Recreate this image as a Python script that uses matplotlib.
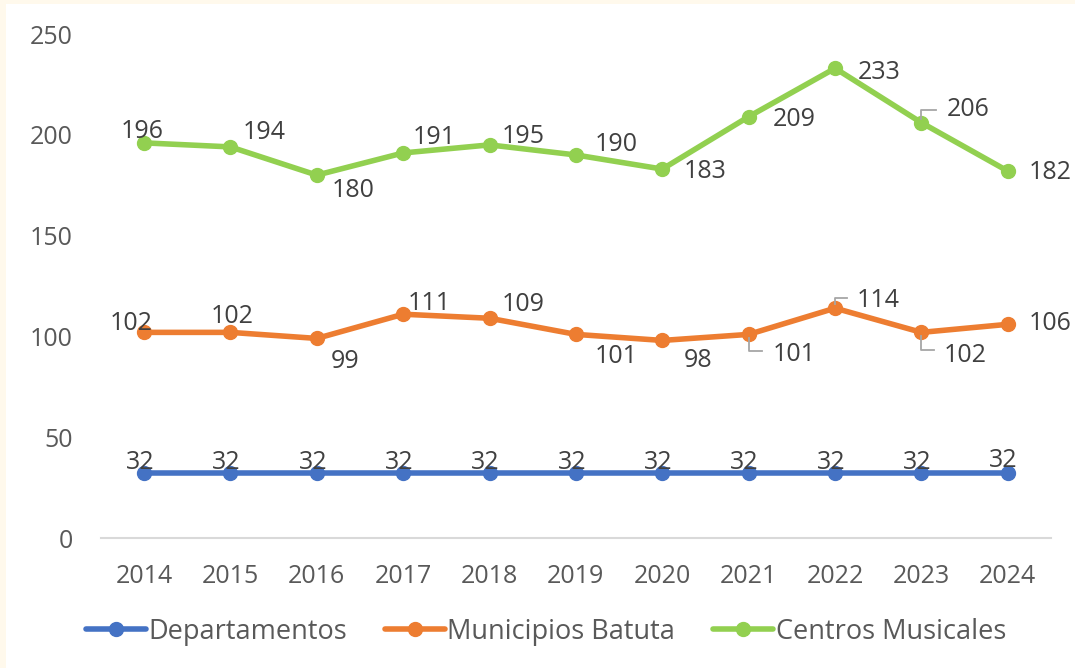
import matplotlib.pyplot as plt
from matplotlib.patches import Rectangle

# datos
anios = ["2014", "2015", "2016", "2017", "2018", "2019", "2020", "2021", "2022", "2023", "2024"]
departamentos = [32, 32, 32, 32, 32, 32, 32, 32, 32, 32, 32]
municipios = [102, 102, 99, 111, 109, 101, 98, 101, 114, 102, 106]
centros = [196, 194, 180, 191, 195, 190, 183, 209, 233, 206, 182]

# desplazamiento de etiquetas (pixeles)
off_dep = [(-4, 11)] * 10 + [(-5, 13)]
off_mun = [(-13, 9), (2, 16), (28, -23), (26, 11), (34, 14), (40, -22),
           (36, -20), (45, -20), (43, 8), (44, -23), (42, 1)]
off_cen = [(-2, 11), (34, 14), (36, -15), (31, 15), (34, 8), (40, 10),
           (43, -2), (46, -3), (44, -4), (47, 13), (42, -1)]
# lineas guia: indice -> (dy vertical, dx horizontal)
guia_mun = {7: (-17, 13), 8: (10, 12), 9: (-18, 13)}
guia_cen = {9: (13, 15)}

azul = "#4472C4"
naranja = "#ED7D31"
verde = "#92D050"

plt.rcParams['font.family'] = ['Open Sans', 'DejaVu Sans']

fig = plt.figure(figsize=(10.75, 6.68), dpi=100)
fig.patch.set_facecolor("#FFF9EC")
fig.patches.append(Rectangle((6 / 1075, 0), 1, 1 - 4 / 668, transform=fig.transFigure,
                             facecolor="white", edgecolor="none", zorder=-5))
ax = fig.add_axes([0.0938, 0.1946, 0.8839, 0.7545])
ax.set_facecolor("none")
ax.set_zorder(2)
ax.set_xlim(-0.5, 10.5)
ax.set_ylim(0, 250)

x = range(len(anios))
series = [("Departamentos", departamentos, azul, off_dep, {}),
          ("Municipios Batuta", municipios, naranja, off_mun, guia_mun),
          ("Centros Musicales", centros, verde, off_cen, guia_cen)]

for nombre, valores, color, offs, guias in series:
    ax.plot(x, valores, color=color, linewidth=4, marker="o", markersize=10,
            label=nombre, solid_capstyle="round", zorder=3)
    for i, v in enumerate(valores):
        if i in guias:
            dy, dx = guias[i]
            p0 = ax.transData.transform((i, v))
            pts = [(p0[0], p0[1] + (4 if dy > 0 else -4)), (p0[0], p0[1] + dy), (p0[0] + dx, p0[1] + dy)]
            inv = ax.transData.inverted()
            xs, ys = zip(*[inv.transform(p) for p in pts])
            ax.plot(xs, ys, color="#A6A6A6", linewidth=1.3, zorder=4)
        ax.annotate(str(v), (i, v), xytext=offs[i], textcoords="offset pixels",
                    ha="center", va="center", fontsize=18, color="#404040", zorder=5)

ax.set_yticks([0, 50, 100, 150, 200, 250])
ax.set_xticks(list(x))
ax.set_xticklabels(anios)
ax.tick_params(axis="both", length=0, labelsize=18, labelcolor="#595959")
ax.tick_params(axis="y", pad=20)
ax.tick_params(axis="x", pad=19)
for s in ["top", "right", "left"]:
    ax.spines[s].set_visible(False)
ax.spines["bottom"].set_color("#D9D9D9")
ax.spines["bottom"].set_linewidth(1.5)

fig.legend(loc="center", bbox_to_anchor=(0.508, 0.054), ncol=3, frameon=False,
           fontsize=19.5, labelcolor="#595959", handlelength=2.2, handletextpad=0.1,
           columnspacing=1.4, numpoints=1)

fig.savefig("out.png", dpi=100, facecolor=fig.get_facecolor())
